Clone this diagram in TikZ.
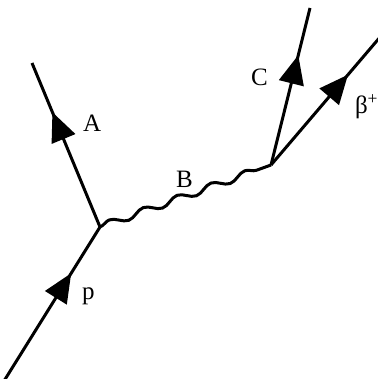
\documentclass[tikz,border=0pt]{standalone}
\usepackage{fontspec}
\setmainfont{Liberation Serif}
\usetikzlibrary{arrows.meta,decorations.markings,decorations.pathmorphing}

\begin{document}
\begin{tikzpicture}[x=1pt,y=-1pt,
  fermion/.style={draw=black,line width=3pt,postaction={decorate},
    decoration={markings,mark=at position 0.7 with {\arrow{Triangle[length=29pt,width=25pt]}}}},
  boson/.style={draw=black,line width=3pt,decorate,
    decoration={snake,amplitude=3.5pt,segment length=36pt}},
  lbl/.style={inner sep=0pt,outer sep=0pt,anchor=base west,font=\fontsize{25}{30}\selectfont}]
\path[use as bounding box] (0,0) rectangle (377,379);
% vertices and free ends
\coordinate (pin) at (4,381);
\coordinate (v1) at (100,227);
\coordinate (aout) at (32,63);
\coordinate (v2) at (271,165);
\coordinate (cout) at (310,8);
\coordinate (bout) at (381,36);
% lines
\draw[fermion] (pin) -- (v1);
\draw[fermion] (v1) -- (aout);
\draw[boson] (v1) -- (v2);
\draw[fermion] (v2) -- (cout);
\draw[fermion] (v2) -- (bout);
% labels
\node[lbl] (lp) at (82,299) {p};
\node[lbl] (la) at (83,132) {A};
\node[lbl] (lb) at (176,187) {B};
\node[lbl] (lc) at (251,86) {C};
\node[lbl] (lbeta) at (355,114) {β\textsuperscript{+}};
\end{tikzpicture}
\end{document}
